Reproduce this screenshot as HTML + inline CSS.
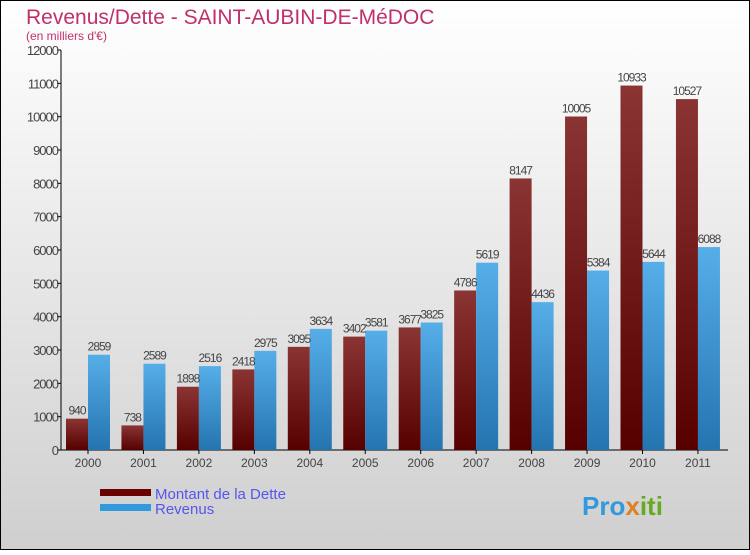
<!DOCTYPE html>
<html><head><meta charset="utf-8"><style>
body{margin:0;width:750px;height:550px;overflow:hidden;font-family:"Liberation Sans",sans-serif}
</style></head><body>
<svg width="750" height="550" xmlns="http://www.w3.org/2000/svg">
<defs>
<linearGradient id="bg" x1="0" y1="0" x2="0" y2="1"><stop offset="0" stop-color="#ffffff"/><stop offset="1" stop-color="#cfcfcf"/></linearGradient>
<linearGradient id="gd" x1="0" y1="0" x2="0" y2="1"><stop offset="0" stop-color="#8a3434"/><stop offset="1" stop-color="#560000"/></linearGradient>
<linearGradient id="gr" x1="0" y1="0" x2="0" y2="1"><stop offset="0" stop-color="#56aee8"/><stop offset="1" stop-color="#2474b0"/></linearGradient>
</defs>
<rect x="0.5" y="0.5" width="749" height="549" fill="url(#bg)" stroke="#000"/>
<text x="26" y="24" font-size="21" fill="#c0306a">Revenus/Dette - SAINT-AUBIN-DE-MéDOC</text>
<text x="26" y="40" font-size="12" fill="#c0306a">(en milliers d'€)</text>
<g id="ax"></g>
<g id="bars"></g>
<rect x="100" y="489" width="51" height="7" fill="#6b0000"/>
<rect x="100" y="504" width="51" height="7" fill="#3399dd"/>
<text x="155" y="499" font-size="15" fill="#5555ee">Montant de la Dette</text>
<text x="155" y="514" font-size="15" fill="#5555ee">Revenus</text>
<text x="582" y="515" font-size="26" font-weight="bold" fill="#3399dd">Pro<tspan fill="#e08020">x</tspan><tspan fill="#66aa22">iti</tspan></text>
</svg>
<script>
const years=["2000","2001","2002","2003","2004","2005","2006","2007","2008","2009","2010","2011"];
const dette=[940,738,1898,2418,3095,3402,3677,4786,8147,10005,10933,10527];
const revenus=[2859,2589,2516,2975,3634,3581,3825,5619,4436,5384,5644,6088];
const yTicks=[0,1000,2000,3000,4000,5000,6000,7000,8000,9000,10000,11000,12000];
const NS="http://www.w3.org/2000/svg";
const y=v=>450-v*400/12000;
const xc=i=>88+i*55.45;
function mk(t,a,p){const e=document.createElementNS(NS,t);for(const k in a)e.setAttribute(k,a[k]);p.appendChild(e);return e;}
const ax=document.getElementById('ax'),bars=document.getElementById('bars');
const yl=mk('line',{x1:61,y1:50,x2:61,y2:450,stroke:'#000'},ax);


const xl=mk('line',{x1:57,y1:450,x2:728,y2:450,stroke:'#000'},ax);


yTicks.forEach(v=>{
 mk('line',{x1:57,y1:y(v),x2:61,y2:y(v),stroke:'#000'},ax);
 const t=mk('text',{x:58,y:y(v)+5,'font-size':13,fill:'#444','text-anchor':'end','letter-spacing':'-1'},ax);
 t.textContent=v;
 
 
});
years.forEach((yr,i)=>{
 mk('line',{x1:xc(i),y1:450,x2:xc(i),y2:454,stroke:'#000'},ax);
 const t=mk('text',{x:xc(i),y:467,'font-size':12,fill:'#444','text-anchor':'middle'},ax);
 t.textContent=yr;
 
 
 const b1=mk('rect',{x:xc(i)-22,y:y(dette[i]),width:22,height:450-y(dette[i]),fill:'url(#gd)'},bars);
 
 
 const b2=mk('rect',{x:xc(i),y:y(revenus[i]),width:22,height:450-y(revenus[i]),fill:'url(#gr)'},bars);
 
 
 const l1=mk('text',{x:xc(i)-11,y:y(dette[i])-4,'font-size':12,fill:'#444','text-anchor':'middle','letter-spacing':'-1'},bars);
 l1.textContent=dette[i];
 
 
 const l2=mk('text',{x:xc(i)+11,y:y(revenus[i])-4,'font-size':12,fill:'#444','text-anchor':'middle','letter-spacing':'-1'},bars);
 l2.textContent=revenus[i];
 
 
});
</script>
</body></html>
